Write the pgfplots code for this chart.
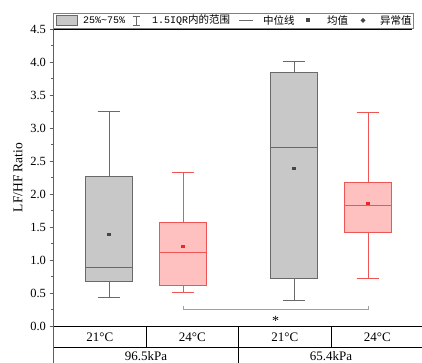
\documentclass[border=0pt]{standalone}
\usepackage{fontspec}
\setmainfont{Liberation Serif}
\newfontfamily\cjk{Noto Sans CJK SC}
\newfontfamily\mono{Liberation Mono}
\usepackage{pgfplots}
\pgfplotsset{compat=1.18}
\usepgfplotslibrary{statistics}
\definecolor{gbox}{RGB}{200,200,200}
\definecolor{gline}{RGB}{105,105,105}
\definecolor{gmean}{RGB}{70,70,70}
\definecolor{rbox}{RGB}{255,192,192}
\definecolor{rline}{RGB}{240,85,85}
\definecolor{rmean}{RGB}{235,40,40}
\definecolor{axgray}{RGB}{95,95,95}
\definecolor{brgray}{RGB}{160,160,160}
\begin{document}
\begin{tikzpicture}[x=1pt,y=1pt]
\useasboundingbox (0,0) rectangle (422,363);
\clip (0,0) rectangle (422,363);
\begin{axis}[
  at={(53.5pt,37pt)}, anchor=south west, scale only axis,
  width=370pt, height=297pt,
  xmin=-0.5, xmax=9.5, ymin=0, ymax=4.5,
  axis x line=none, axis y line*=left,
  y axis line style={axgray, line width=1.2pt},
  ytick={0,0.5,1,1.5,2,2.5,3,3.5,4,4.5}, minor y tick num=1,
  tick align=outside, major tick length=4pt, minor tick length=2.5pt,
  y tick style={axgray, line width=0.8pt},
  yticklabel style={/pgf/number format/.cd, fixed, fixed zerofill, precision=1, assume math mode=true},
  tick label style={font=\fontsize{12.5}{15}\selectfont},
  ylabel={LF/HF Ratio},
  every axis y label/.style={at={([xshift=-35.5pt]axis description cs:0,0.5)}, rotate=90, anchor=center, font=\fontsize{13.5}{16}\selectfont},
  clip=false,
  boxplot/draw direction=y,
  boxplot/box extend=1.27, boxplot/whisker extend=0.62,
]
\addplot[draw=gline, fill=gbox, line width=1pt,
  boxplot prepared={draw position=1, lower whisker=0.43, lower quartile=0.67, median=0.88, upper quartile=2.27, upper whisker=3.25}] coordinates {};
\addplot[draw=rline, fill=rbox, line width=1pt,
  boxplot prepared={draw position=3, lower whisker=0.50, lower quartile=0.61, median=1.12, upper quartile=1.57, upper whisker=2.33}] coordinates {};
\addplot[draw=gline, fill=gbox, line width=1pt,
  boxplot prepared={draw position=6, lower whisker=0.39, lower quartile=0.72, median=2.70, upper quartile=3.84, upper whisker=4.00}] coordinates {};
\addplot[draw=rline, fill=rbox, line width=1pt,
  boxplot prepared={draw position=8, lower whisker=0.72, lower quartile=1.41, median=1.82, upper quartile=2.18, upper whisker=3.24}] coordinates {};
% means
\addplot[only marks, mark=square*, mark size=1.4pt, color=gmean] coordinates {(1,1.39) (6,2.39)};
\addplot[only marks, mark=square*, mark size=1.4pt, color=rmean] coordinates {(3,1.21) (8,1.86)};
% frame lines
\draw[black, line width=0.9pt] (axis cs:-0.5,4.5) -- (axis cs:9.19,4.5);
\draw[black, line width=0.9pt] (axis cs:-0.5,0) -- (axis cs:9.8,0);
\draw[black, line width=0.9pt] (axis cs:-0.5,-0.318) -- (axis cs:9.8,-0.318);
\draw[axgray, line width=1.2pt] (axis cs:-0.5,0) -- (axis cs:-0.5,-0.7);
\draw[black, line width=0.9pt] (axis cs:2,0) -- (axis cs:2,-0.318);
\draw[black, line width=0.9pt] (axis cs:7,0) -- (axis cs:7,-0.318);
\draw[black, line width=0.9pt] (axis cs:4.5,0) -- (axis cs:4.5,-0.7);
% significance
\draw[brgray, line width=0.8pt] (axis cs:3,0.30) -- (axis cs:3,0.253) -- (axis cs:8,0.253) -- (axis cs:8,0.30);
\node[font=\fontsize{14}{14}\selectfont, inner sep=0pt] at (axis cs:5.5,0.07) {*};
% table text
\node[font=\fontsize{13}{13}\selectfont] at (axis cs:0.75,-0.167) {21°C};
\node[font=\fontsize{13}{13}\selectfont] at (axis cs:3.25,-0.167) {24°C};
\node[font=\fontsize{13}{13}\selectfont] at (axis cs:5.75,-0.167) {21°C};
\node[font=\fontsize{13}{13}\selectfont] at (axis cs:8.25,-0.167) {24°C};
\node[font=\fontsize{13}{13}\selectfont] at (axis cs:2,-0.455) {96.5kPa};
\node[font=\fontsize{13}{13}\selectfont] at (axis cs:7,-0.455) {65.4kPa};
\end{axis}
% legend
\draw[gray, line width=0.6pt, fill=white] (53.5,350) rectangle (413,335);
\draw[gline, fill=gbox, line width=0.7pt] (56.5,347.5) rectangle (77.5,337.5);
\node[anchor=west, inner sep=0pt] at (83,342.5) {\mono\fontsize{10}{10}\selectfont 25\%\textasciitilde75\%};
\draw[gline, line width=0.8pt] (136,347) -- (136,337.5) (132.5,347) -- (139.5,347) (132.5,337.5) -- (139.5,337.5);
\node[anchor=west, inner sep=0pt] at (152,342.5) {{\mono\fontsize{10}{10}\selectfont 1.5IQR}{\cjk\fontsize{10.5}{11}\selectfont 内的范围}};
\draw[gline, line width=1pt] (239,342.5) -- (253,342.5);
\node[anchor=west, inner sep=0pt] at (263,342.5) {\cjk\fontsize{10.5}{11}\selectfont 中位线};
\fill[gmean] (306,340.5) rectangle (310,344.5);
\node[anchor=west, inner sep=0pt] at (327,342.5) {\cjk\fontsize{10.5}{11}\selectfont 均值};
\fill[gmean] (363,345) -- (365.5,342.5) -- (363,340) -- (360.5,342.5) -- cycle;
\node[anchor=west, inner sep=0pt] at (380,342.5) {\cjk\fontsize{10.5}{11}\selectfont 异常值};
\end{tikzpicture}
\end{document}
